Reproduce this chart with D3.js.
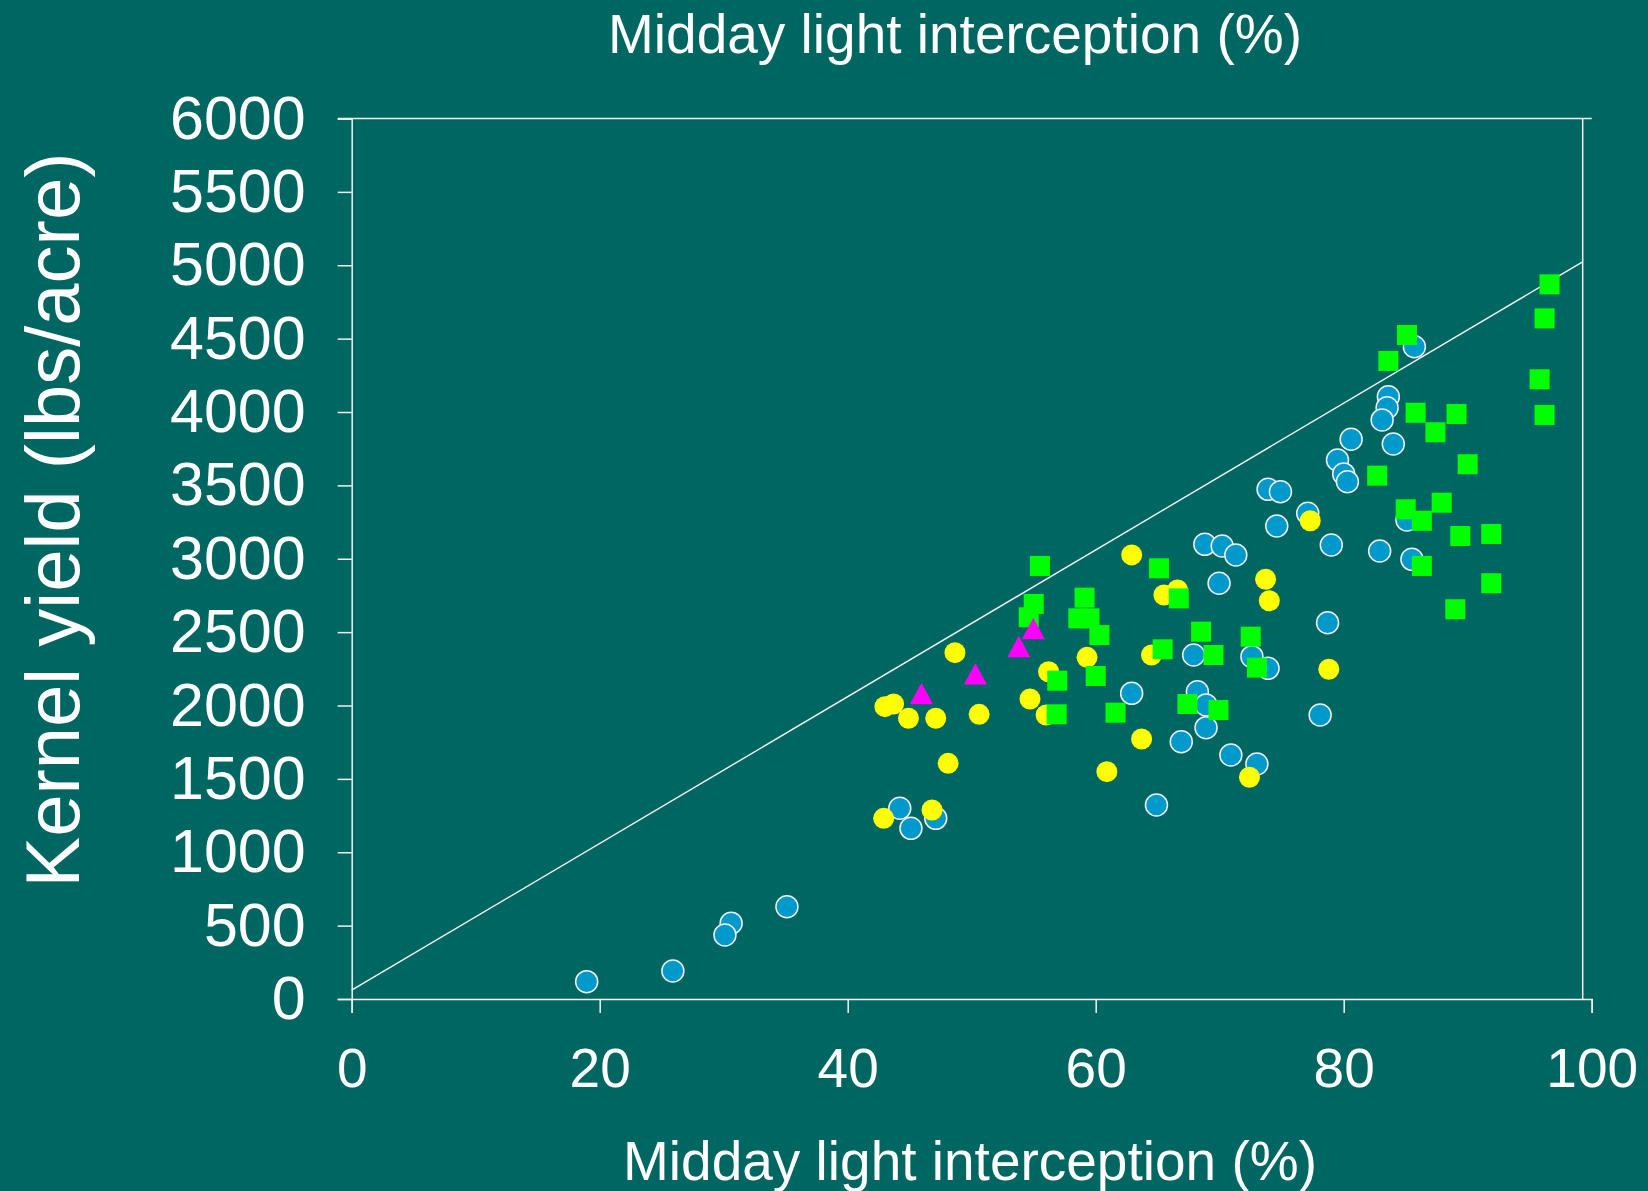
<!DOCTYPE html>
<html>
<head>
<meta charset="utf-8">
<script src="https://cdn.jsdelivr.net/npm/d3@7"></script>
<style>
  body { margin: 0; background: #006661; }
  svg { display: block; }
  text { font-family: "Liberation Sans", Arial, sans-serif; fill: #fff; }
</style>
</head>
<body>
<svg id="chart" width="1648" height="1191"></svg>
<script>
// series values (x = light interception %, y = lbs/acre)
var blueX = [18.95, 25.9, 30.6, 30.1, 35.1, 44.2, 45.1, 47.1, 62.9, 64.9, 66.9, 67.9, 68.2, 68.9,
    68.9, 70.9, 73.0, 72.6, 73.9, 69.95, 68.8, 70.2, 71.3, 74.6, 77.1, 78.1, 85.7, 83.6, 83.5,
    83.1, 84.0, 80.6, 79.5, 80.0, 80.3, 73.9, 74.9, 79.0, 82.9, 85.5, 85.1, 78.7];
var blueY = [118, 191, 516, 436, 629, 1300, 1163, 1231, 2083, 1322, 1753, 2344, 2094, 2003,
    1849, 1663, 1601, 2333, 2253, 2833, 3098, 3087, 3026, 3223, 3310, 1935, 4445, 4104, 4029,
    3946, 3782, 3814, 3673, 3578, 3525, 3473, 3457, 3094, 3053, 2996, 3264, 2564];

var yellowX = [43.0, 43.7, 44.9, 47.1, 48.1, 48.65, 42.9, 46.8, 50.6, 56.2, 54.7, 56.0, 59.3,
    62.9, 65.5, 66.6, 64.5, 63.7, 60.9, 72.4, 78.8, 73.7, 74.0, 77.3];
var yellowY = [1992, 2010, 1913, 1913, 1606, 2360, 1231, 1288, 1940, 2230, 2044, 1935, 2328,
    3026, 2753, 2787, 2344, 1772, 1549, 1511, 2247, 2860, 2714, 3259];

var greenX = [55.5, 55.0, 54.6, 56.9, 56.85, 59.1, 58.6, 59.5, 60.3, 60.0, 61.6, 65.1, 66.7,
    65.4, 68.5, 69.5, 67.4, 69.9, 72.5, 73.0, 96.6, 96.2, 95.8, 96.2, 85.1, 83.6, 85.8, 89.1,
    87.4, 90.0, 82.7, 86.3, 85.0, 86.3, 87.9, 89.4, 91.9, 91.9, 89.0];
var greenY = [2951, 2692, 2601, 2169, 1940, 2735, 2594, 2594, 2480, 2201, 1951, 2935, 2730,
    2383, 2503, 2344, 2010, 1969, 2469, 2258, 4870, 4638, 4223, 3980, 4525, 4348, 3995, 3986,
    3862, 3644, 3566, 2951, 3337, 3259, 3382, 3155, 3169, 2833, 2656];

var magentaX = [45.95, 50.3, 53.8, 54.97];
var magentaY = [2080, 2215, 2401, 2523];

// 1:1-ish reference line
var lineX = [0, 99.3];
var lineY = [60, 5025];

var xTicks = [0, 20, 40, 60, 80, 100];
var yTicks = [0, 500, 1000, 1500, 2000, 2500, 3000, 3500, 4000, 4500, 5000, 5500, 6000];

var titleText = "Midday light interception (%)";
var yLabelText = "Kernel yield (lbs/acre)";

var svg = d3.select('#chart');

svg.append('rect')
    .attr('width', 1648)
    .attr('height', 1191)
    .attr('fill', '#006661');

var x = d3.scaleLinear().domain([0, 100]).range([351.7, 1591.7]);
var y = d3.scaleLinear().domain([0, 6000]).range([999, 118.5]);

function zip(xs, ys) {
    return xs.map(function(d, i) {
        return { x: d, y: ys[i] };
    });
}

// plot frame: right border and top line
svg.append('line')
    .attr('x1', 1582.7).attr('x2', 1582.7)
    .attr('y1', y(6000)).attr('y2', y(0))
    .attr('stroke', '#f2f2f2').attr('stroke-width', 1.5);

svg.append('line')
    .attr('x1', 338).attr('x2', x(100))
    .attr('y1', y(6000)).attr('y2', y(6000))
    .attr('stroke', '#f2f2f2').attr('stroke-width', 1.5);

// axes
var yAxis = d3.axisLeft(y)
    .tickValues(yTicks)
    .tickSize(14)
    .tickPadding(32)
    .tickFormat(function(d) { return d; });

var xAxis = d3.axisBottom(x)
    .tickValues(xTicks)
    .tickSize(14)
    .tickPadding(35)
    .tickFormat(function(d) { return d; });

var gy = svg.append('g')
    .attr('transform', 'translate(' + x(0) + ',0)')
    .call(yAxis);

var gx = svg.append('g')
    .attr('transform', 'translate(0,' + y(0) + ')')
    .call(xAxis);

[gx, gy].forEach(function(g) {
    g.select('.domain').attr('stroke', '#f2f2f2').attr('stroke-width', 1.5);
    g.selectAll('.tick line').attr('stroke', '#f2f2f2').attr('stroke-width', 1.5);
    g.selectAll('.tick text')
        .attr('fill', '#fff')
        .style('font-family', '"Liberation Sans", Arial, sans-serif');
});
gy.selectAll('.tick text').style('font-size', '61px');
gx.selectAll('.tick text').style('font-size', '55px');

// reference line
svg.append('line')
    .attr('x1', x(lineX[0])).attr('y1', y(lineY[0]))
    .attr('x2', x(lineX[1])).attr('y2', y(lineY[1]))
    .attr('stroke', '#f4f4f4')
    .attr('stroke-width', 1.4);

// markers: blue first, then yellow, green, magenta on top
svg.append('g').selectAll('circle')
    .data(zip(blueX, blueY))
    .enter()
    .append('circle')
    .attr('cx', function(d) { return x(d.x); })
    .attr('cy', function(d) { return y(d.y); })
    .attr('r', 11)
    .attr('fill', '#0099cc')
    .attr('stroke', '#f0f0f0')
    .attr('stroke-width', 1.5);

svg.append('g').selectAll('circle')
    .data(zip(yellowX, yellowY))
    .enter()
    .append('circle')
    .attr('cx', function(d) { return x(d.x); })
    .attr('cy', function(d) { return y(d.y); })
    .attr('r', 10.5)
    .attr('fill', '#ffff00');

svg.append('g').selectAll('rect')
    .data(zip(greenX, greenY))
    .enter()
    .append('rect')
    .attr('x', function(d) { return x(d.x) - 10; })
    .attr('y', function(d) { return y(d.y) - 10; })
    .attr('width', 20)
    .attr('height', 20)
    .attr('fill', '#00ff00');

svg.append('g').selectAll('path')
    .data(zip(magentaX, magentaY))
    .enter()
    .append('path')
    .attr('transform', function(d) {
        return 'translate(' + x(d.x) + ',' + y(d.y) + ')';
    })
    .attr('d', 'M0,-11L11.5,10.5L-11.5,10.5Z')
    .attr('fill', '#ff00ff');

// titles
svg.append('text')
    .attr('x', 955)
    .attr('y', 53)
    .attr('text-anchor', 'middle')
    .style('font-size', '55px')
    .text(titleText);

svg.append('text')
    .attr('x', 970)
    .attr('y', 1180)
    .attr('text-anchor', 'middle')
    .style('font-size', '55px')
    .text(titleText);

svg.append('text')
    .attr('transform', 'translate(79,520) rotate(-90)')
    .attr('text-anchor', 'middle')
    .style('font-size', '76px')
    .text(yLabelText);
</script>
</body>
</html>
